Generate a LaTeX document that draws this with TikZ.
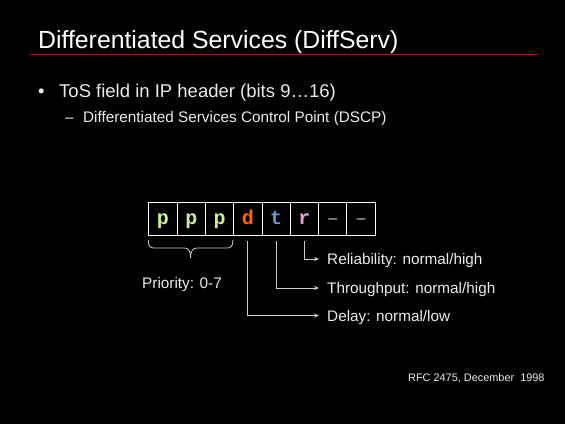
\documentclass[tikz,border=0pt]{standalone}
\usepackage{fontspec}
\setmainfont{Liberation Sans}
\newfontfamily\monofont{Liberation Mono}
\usetikzlibrary{arrows.meta}
\definecolor{pcol}{RGB}{200,240,150}
\definecolor{dcol}{RGB}{255,102,0}
\definecolor{tcol}{RGB}{102,153,204}
\definecolor{rcol}{RGB}{230,160,210}
\definecolor{dashcol}{RGB}{170,170,170}
\definecolor{txt}{RGB}{235,235,235}
\definecolor{linecol}{RGB}{205,205,205}
\begin{document}
\begin{tikzpicture}[x=1pt,y=-1pt,
  txtnode/.style={inner sep=0pt,anchor=base west,text=txt},
  bitbox/.style={draw=white,line width=1pt,minimum width=28.3pt,minimum height=33pt,inner sep=0pt,anchor=north west,text height=11pt,text depth=0.6pt,font=\monofont\bfseries\fontsize{20}{20}\selectfont},
  conn/.style={draw=linecol,line width=0.8pt,-{Stealth[length=5pt,width=4pt]}}]
\fill[black] (0,0) rectangle (565,424);
\useasboundingbox (0,0) rectangle (565,424);
% title
\node[txtnode,text=white,font=\fontsize{24.8}{24.8}\selectfont] (title) at (38,48) {Differentiated Services (DiffServ)};
\draw[red!85!black,line width=1.2pt] (30,54.3) -- (538,54.3);
% bullets
\node[txtnode,font=\fontsize{18.5}{18.5}\selectfont] (b1) at (38,97.3) {\textbullet};
\node[txtnode,font=\fontsize{18.5}{18.5}\selectfont] (t1) at (59,97.3) {ToS field in IP header (bits 9…16)};
\node[txtnode,font=\fontsize{15.3}{15.3}\selectfont] (b2) at (65,122.7) {–};
\node[txtnode,font=\fontsize{15.3}{15.3}\selectfont] (t2) at (83,122.7) {Differentiated Services Control Point (DSCP)};
% bit boxes
\node[bitbox,text=pcol] (p1) at (148.3,202.3) {p};
\node[bitbox,text=pcol] (p2) at (176.6,202.3) {p};
\node[bitbox,text=pcol] (p3) at (204.9,202.3) {p};
\node[bitbox,text=dcol] (d) at (233.2,202.3) {d};
\node[bitbox,text=tcol] (t) at (261.5,202.3) {t};
\node[bitbox,text=rcol] (r) at (289.8,202.3) {r};
\node[bitbox,text=dashcol,font=\monofont\fontsize{20}{20}\selectfont] (x1) at (318.1,202.3) {–};
\node[bitbox,text=dashcol,font=\monofont\fontsize{20}{20}\selectfont] (x2) at (346.4,202.3) {–};
% brace
\draw[linecol,line width=0.8pt]
  (148.3,240) .. controls (148.3,246) and (150,248) .. (154,248) -- (184,248)
  .. controls (188,248) and (190.6,250) .. (190.6,258)
  .. controls (190.6,250) and (193.2,248) .. (197.2,248) -- (227.2,248)
  .. controls (231.2,248) and (232.9,246) .. (232.9,240);
\node[txtnode,font=\fontsize{15.3}{15.3}\selectfont] (prio) at (142,288.5) {Priority: 0-7};
% labels
\node[txtnode,font=\fontsize{15.3}{15.3}\selectfont] (rel) at (327,264.5) {Reliability: normal/high};
\node[txtnode,font=\fontsize{15.3}{15.3}\selectfont] (thr) at (327,293.5) {Throughput: normal/high};
\node[txtnode,font=\fontsize{15.3}{15.3}\selectfont] (del) at (327,321) {Delay: normal/low};
\coordinate (relend) at (319,259);
\coordinate (thrend) at (319,288);
\coordinate (delend) at (319,315.5);
\draw[conn] ([yshift=-5pt]r.south) |- (relend);
\draw[conn] ([yshift=-5pt]t.south) |- (thrend);
\draw[conn] ([yshift=-5pt]d.south) |- (delend);
% footnote
\node[txtnode,font=\fontsize{10.9}{10.9}\selectfont] (rfc) at (408,381) {RFC 2475, December\ \ 1998};
\end{tikzpicture}
\end{document}
